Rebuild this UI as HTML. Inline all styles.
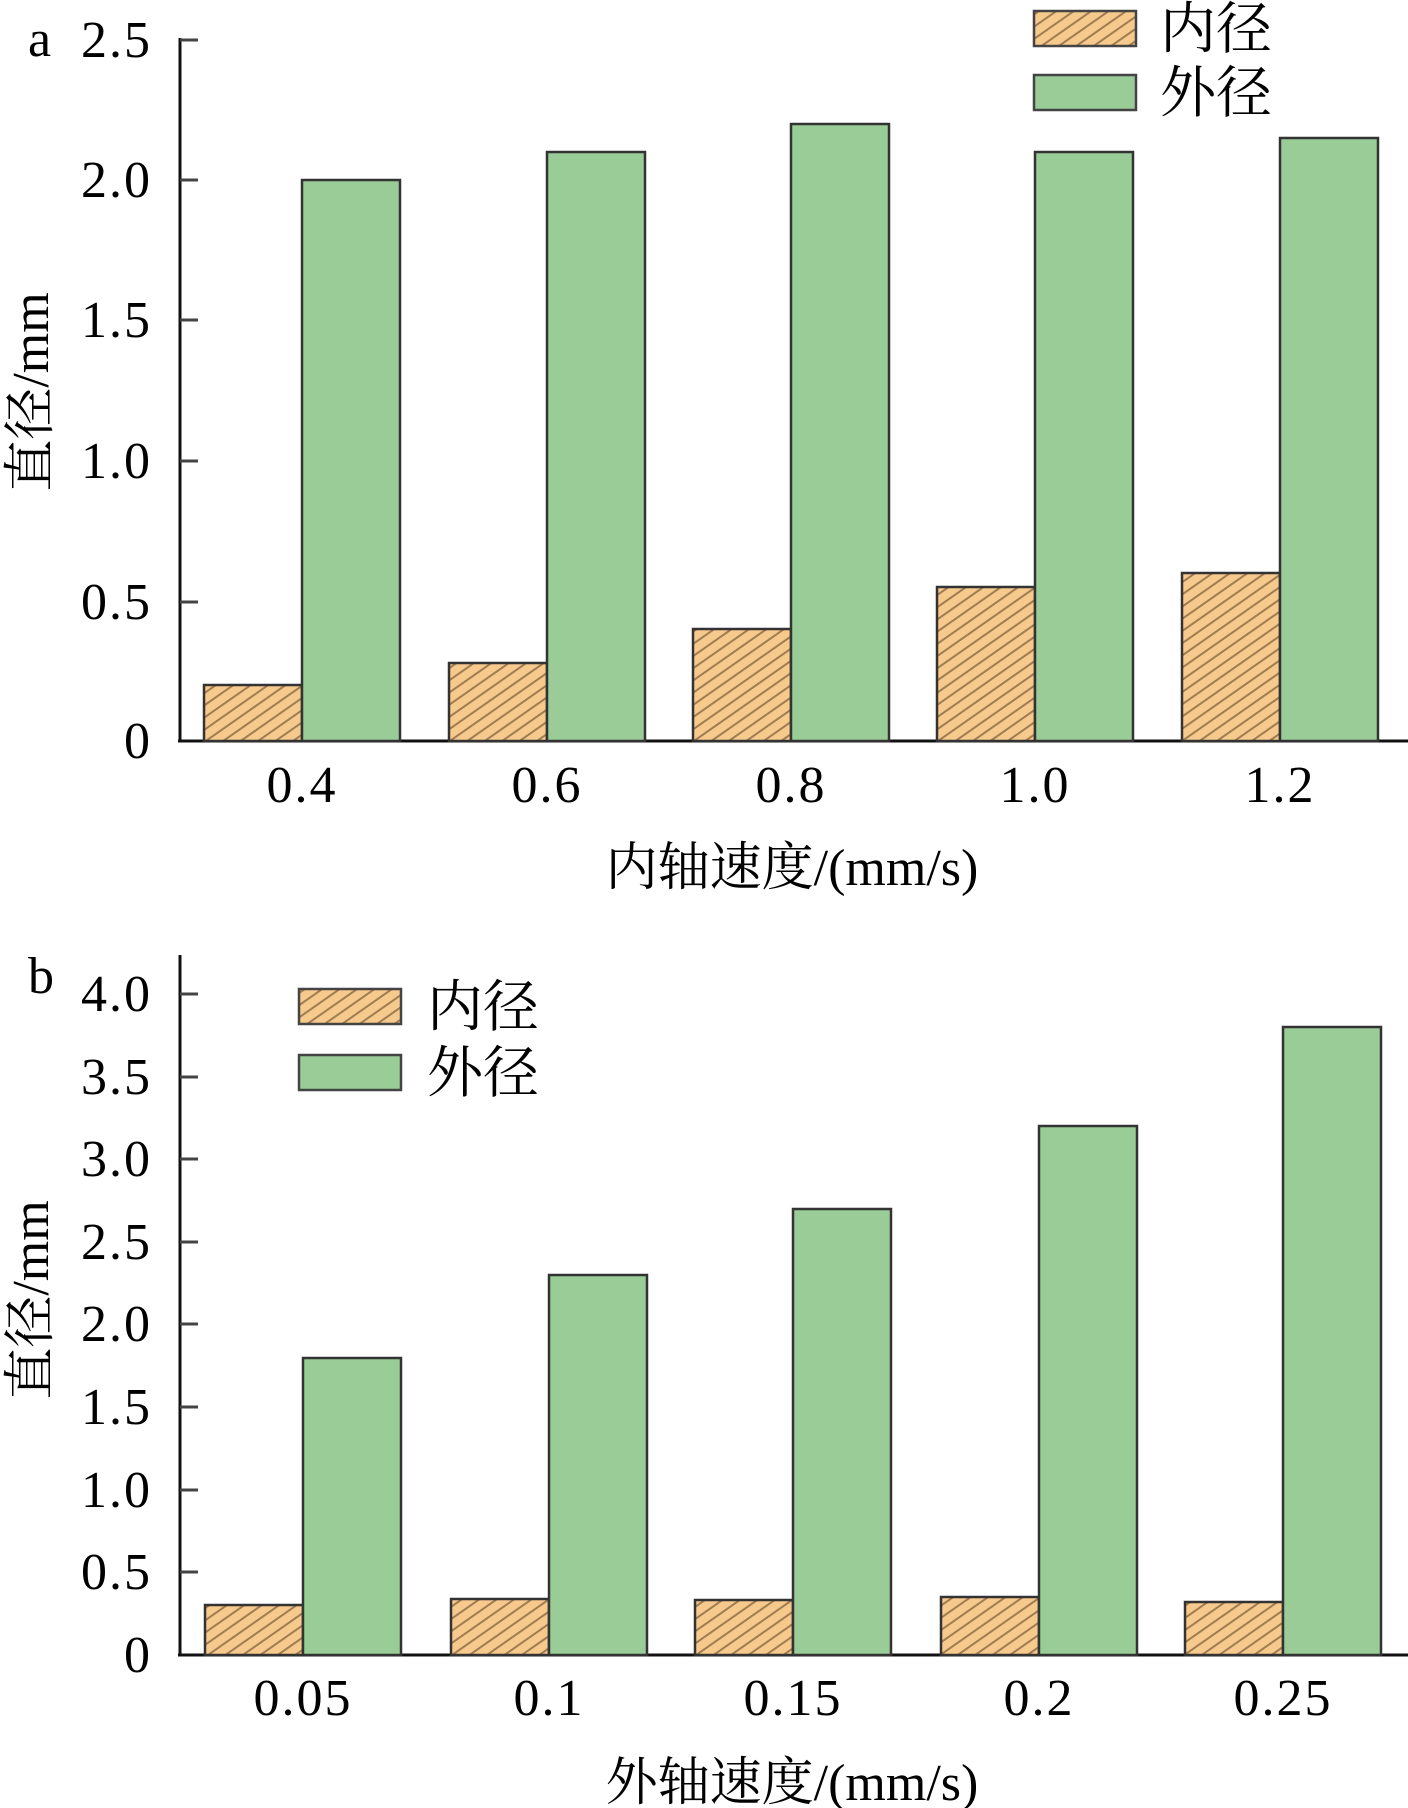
<!DOCTYPE html>
<html><head><meta charset="utf-8"><style>
html,body{margin:0;padding:0;background:#fff;}
svg{display:block;}
text{font-family:"Liberation Serif","Noto Serif CJK SC",serif;fill:#000;}
.cjk{font-family:"Liberation Serif","Noto Serif CJK SC","Noto Sans CJK SC",serif;}
.n{letter-spacing:2px;}
</style></head><body>
<svg width="1408" height="1808" viewBox="0 0 1408 1808" xmlns="http://www.w3.org/2000/svg">
<defs>
<pattern id="h" patternUnits="userSpaceOnUse" width="10" height="10" patternTransform="rotate(-35)">
<rect width="10" height="10" fill="#f6c98c"/>
<line x1="0" y1="5" x2="10" y2="5" stroke="#a07c50" stroke-width="2"/>
</pattern>
</defs>
<g id="A">
<line x1="180" y1="38" x2="180" y2="742" stroke="#111" stroke-width="3"/>
<line x1="178" y1="741" x2="1408" y2="741" stroke="#111" stroke-width="3"/>
<g stroke="#444" stroke-width="3">
<line x1="180" y1="40" x2="198" y2="40"/><line x1="180" y1="180" x2="198" y2="180"/>
<line x1="180" y1="320" x2="198" y2="320"/><line x1="180" y1="461" x2="198" y2="461"/>
<line x1="180" y1="602" x2="198" y2="602"/>
</g>
<g font-size="52" text-anchor="end" class="n">
<text x="152" y="57">2.5</text><text x="152" y="197">2.0</text><text x="152" y="337">1.5</text>
<text x="152" y="478">1.0</text><text x="152" y="619">0.5</text><text x="152" y="758">0</text>
</g>
<text x="28" y="56" font-size="52">a</text>
<g stroke="#333" stroke-width="2.5">
<rect x="204" y="685" width="98" height="56" fill="url(#h)"/><rect x="302" y="180" width="98" height="561" fill="#99cc96"/>
<rect x="449" y="663" width="98" height="78" fill="url(#h)"/><rect x="547" y="152" width="98" height="589" fill="#99cc96"/>
<rect x="693" y="629" width="98" height="112" fill="url(#h)"/><rect x="791" y="124" width="98" height="617" fill="#99cc96"/>
<rect x="937" y="587" width="98" height="154" fill="url(#h)"/><rect x="1035" y="152" width="98" height="589" fill="#99cc96"/>
<rect x="1182" y="573" width="98" height="168" fill="url(#h)"/><rect x="1280" y="138" width="98" height="603" fill="#99cc96"/>
</g>
<g font-size="52" text-anchor="middle" class="n">
<text x="302" y="802">0.4</text><text x="547" y="802">0.6</text><text x="791" y="802">0.8</text>
<text x="1035" y="802">1.0</text><text x="1280" y="802">1.2</text>
</g>
<text class="cjk" x="792" y="885" font-size="52" text-anchor="middle">内轴速度/(mm/s)</text>
<text class="cjk" x="0" y="0" font-size="52" text-anchor="middle" transform="translate(48,392) rotate(-90)">直径/mm</text>
<g stroke="#444" stroke-width="2.5">
<rect x="1034" y="11" width="102" height="35" fill="url(#h)"/>
<rect x="1034" y="75" width="102" height="35" fill="#99cc96"/>
</g>
<text class="cjk" x="1160" y="48" font-size="56">内径</text>
<text class="cjk" x="1160" y="112" font-size="56">外径</text>
</g>
<g id="B">
<line x1="180" y1="955" x2="180" y2="1656" stroke="#111" stroke-width="3"/>
<line x1="178" y1="1655" x2="1408" y2="1655" stroke="#111" stroke-width="3"/>
<g stroke="#444" stroke-width="3">
<line x1="180" y1="994" x2="198" y2="994"/><line x1="180" y1="1077" x2="198" y2="1077"/>
<line x1="180" y1="1159" x2="198" y2="1159"/><line x1="180" y1="1242" x2="198" y2="1242"/>
<line x1="180" y1="1324" x2="198" y2="1324"/><line x1="180" y1="1407" x2="198" y2="1407"/>
<line x1="180" y1="1490" x2="198" y2="1490"/><line x1="180" y1="1572" x2="198" y2="1572"/>
</g>
<g font-size="52" text-anchor="end" class="n">
<text x="152" y="1011">4.0</text><text x="152" y="1094">3.5</text><text x="152" y="1176">3.0</text>
<text x="152" y="1259">2.5</text><text x="152" y="1341">2.0</text><text x="152" y="1424">1.5</text>
<text x="152" y="1507">1.0</text><text x="152" y="1589">0.5</text><text x="152" y="1672">0</text>
</g>
<text x="28" y="993" font-size="52">b</text>
<g stroke="#333" stroke-width="2.5">
<rect x="205" y="1605" width="98" height="50" fill="url(#h)"/><rect x="303" y="1358" width="98" height="297" fill="#99cc96"/>
<rect x="451" y="1599" width="98" height="56" fill="url(#h)"/><rect x="549" y="1275" width="98" height="380" fill="#99cc96"/>
<rect x="695" y="1600" width="98" height="55" fill="url(#h)"/><rect x="793" y="1209" width="98" height="446" fill="#99cc96"/>
<rect x="941" y="1597" width="98" height="58" fill="url(#h)"/><rect x="1039" y="1126" width="98" height="529" fill="#99cc96"/>
<rect x="1185" y="1602" width="98" height="53" fill="url(#h)"/><rect x="1283" y="1027" width="98" height="628" fill="#99cc96"/>
</g>
<g font-size="52" text-anchor="middle" class="n">
<text x="303" y="1715">0.05</text><text x="549" y="1715">0.1</text><text x="793" y="1715">0.15</text>
<text x="1039" y="1715">0.2</text><text x="1283" y="1715">0.25</text>
</g>
<text class="cjk" x="792" y="1800" font-size="52" text-anchor="middle">外轴速度/(mm/s)</text>
<text class="cjk" x="0" y="0" font-size="52" text-anchor="middle" transform="translate(48,1300) rotate(-90)">直径/mm</text>
<g stroke="#444" stroke-width="2.5">
<rect x="299" y="989" width="102" height="35" fill="url(#h)"/>
<rect x="299" y="1055" width="102" height="35" fill="#99cc96"/>
</g>
<text class="cjk" x="427" y="1026" font-size="56">内径</text>
<text class="cjk" x="427" y="1092" font-size="56">外径</text>
</g>
</svg>
</body></html>
